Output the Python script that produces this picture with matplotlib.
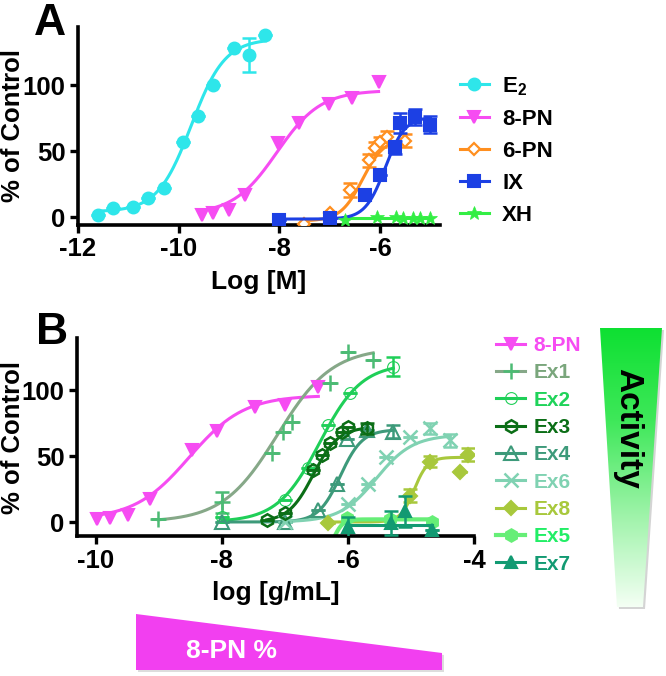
import numpy as np
import matplotlib
matplotlib.use('Agg')
import matplotlib.pyplot as plt
from matplotlib.lines import Line2D
from matplotlib.patches import Polygon

plt.rcParams['font.family'] = ['Liberation Sans', 'DejaVu Sans']
plt.rcParams['font.weight'] = 'bold'
plt.rcParams['axes.unicode_minus'] = False
plt.rcParams['mathtext.fontset'] = 'custom'
plt.rcParams['mathtext.rm'] = 'Liberation Sans:bold'
plt.rcParams['mathtext.it'] = 'Liberation Sans:bold'
plt.rcParams['mathtext.bf'] = 'Liberation Sans:bold'

# ---------------- panel A data (log M, % of control) ----------------
e2_x = [-11.61, -11.30, -10.90, -10.60, -10.30, -9.92, -9.61, -9.31, -8.91, -8.61, -8.28]
e2_y = [1.5, 6.6, 7.8, 14.2, 22.2, 57.2, 76.5, 100, 127.8, 122.7, 137.9]
e2_err = [0, 0, 0, 0, 0, 0, 0, 0, 0, 12.7, 0]

pn8a_x = [-9.54, -9.31, -9.01, -8.68, -8.02, -7.62, -7.02, -6.56, -6.03]
pn8a_y = [1.5, 2.8, 5.3, 16.7, 55.8, 71, 86, 90, 102.5]

pn6_x = [-7.52, -6.99, -6.59, -6.23, -6.10, -6.00, -5.86, -5.50]
pn6_y = [-5, 2.8, 20.5, 43, 52, 57, 61, 58]
pn6_err = [0, 0, 5, 5, 5, 4, 4, 5]

ix_x = [-8.0, -6.99, -6.29, -6.0, -5.70, -5.60, -5.30, -5.0]
ix_y = [-2.3, -1, 16.7, 32, 53, 71, 76, 70]
ix_err = [0, 0, 0, 0, 5, 7.5, 6, 6.5]

xh_x = [-6.69, -6.06, -5.69, -5.55, -5.35, -5.20, -5.0]
xh_y = [-2.3, 0.2, 0, -0.5, -0.5, -0.5, -0.5]

# fitted curves: bottom, top, logEC50, hill
e2_fit = [4, 135, -9.75, 1.3]
pn8a_fit = [2, 96, -8.05, 1.0]
pn6_fit = [-3, 60, -6.35, 2.0]
ix_fit = [-1.5, 76, -5.9, 2.2]
xh_fit = [-0.5, -0.5, -6.0, 1.0]

# ---------------- panel B data (log g/mL, % of control) ----------------
pn8b_x = [-9.99, -9.78, -9.49, -9.14, -8.47, -8.08, -7.48, -7.0, -6.47]
pn8b_y = [2, 2.8, 5.3, 17.2, 54.5, 69, 87, 89, 102]

ex1_x = [-9.01, -8.0, -7.21, -7.03, -6.89, -6.29, -6.0, -5.6]
ex1_y = [2, 15, 52, 68, 76, 105, 129, 123]
ex1_err = [0, 8, 0, 0, 0, 0, 0, 0]

ex2_x = [-8.0, -7.0, -6.63, -6.31, -5.97, -5.28]
ex2_y = [4, 16.7, 40.6, 73.5, 97.5, 117.7]
ex2_err = [0, 0, 0, 0, 0, 7]

ex3_x = [-7.29, -7.0, -6.55, -6.42, -6.29, -6.10, -6.0, -5.7]
ex3_y = [1.5, 6.6, 39.4, 50.8, 59.6, 68.4, 72, 71]
ex3_err = [0, 0, 0, 0, 0, 0, 0, 4]

ex4_x = [-8.0, -7.0, -6.47, -6.18, -6.02, -5.7, -5.28]
ex4_y = [0, 0, 9, 29, 63, 70, 68.4]
ex4_err = [0, 0, 0, 0, 0, 0, 5]

ex6_x = [-7.0, -6.0, -5.68, -5.39, -5.02, -4.70, -4.38]
ex6_y = [0, 14, 29, 49.5, 64.6, 71, 62]
ex6_err = [0, 0, 0, 0, 0, 4, 5]

ex8_x = [-6.31, -5.02, -4.70, -4.22, -4.09]
ex8_y = [-1, 20, 45.7, 38, 51]
ex8_err = [0, 5, 4, 0, 5]

ex5_x = [-6.02, -5.33, -4.67]
ex5_y = [3, 2, 0]

ex7_x = [-6.0, -5.31, -5.10, -4.67]
ex7_y = [-4, -1, 8, -6]
ex7_err = [8, 9, 12, 0]

pn8b_fit = [2, 96, -8.52, 1.0]
ex1_fit = [0, 132, -7.12, 1.0]
ex2_fit = [0, 120, -6.45, 1.3]
ex3_fit = [0, 72, -6.55, 2.2]
ex4_fit = [0, 70, -6.12, 2.5]
ex6_fit = [0, 66, -5.55, 1.5]
ex8_fit = [0, 49, -4.95, 4.0]
ex5_fit = [-25, 2, -6.22, 6.0]
ex7_fit = [-2, -2, -5.5, 1.0]
ex5_start = -6.27


def four_pl(x, p):
    bottom, top, logec, hill = p
    return bottom + (top - bottom) / (1 + 10 ** ((logec - x) * hill))


def draw_series(ax, x, y, fit, color, marker, err=None, ms=8, mfc=None,
                mew=1.5, lcolor=None, x0=None, lw=2.2, z=2):
    xs = np.linspace(x[0] if x0 is None else x0, x[-1], 200)
    ax.plot(xs, four_pl(xs, fit), color=lcolor or color, lw=lw, zorder=z)
    if err is not None:
        ax.errorbar(x, y, yerr=err, fmt='none', ecolor=color, elinewidth=1.8,
                    capsize=5, capthick=1.8, zorder=z + 0.5)
    ax.plot(x, y, linestyle='none', marker=marker, ms=ms, color=color,
            mfc=mfc or color, mec=color, mew=mew, zorder=z + 1)
    return Line2D([], [], color=lcolor or color, lw=lw, marker=marker, ms=ms,
                  mfc=mfc or color, mec=color, mew=mew)


def style_axes(ax, label_x):
    for s in ['top', 'right']:
        ax.spines[s].set_visible(False)
    for s in ['left', 'bottom']:
        ax.spines[s].set_linewidth(2.6)
    ax.tick_params(width=2.4, length=6, labelsize=18.5, pad=3)
    ax.set_yticks([0, 50, 100])
    for t in ax.get_xticklabels() + ax.get_yticklabels():
        t.set_fontweight('bold')
    ax.set_ylabel('% of Control', fontsize=18.5, fontweight='bold')
    ax.yaxis.set_label_coords(label_x, 0.5)


fig = plt.figure(figsize=(6.66, 6.76), dpi=100)

# ---------------- panel A ----------------
axA = fig.add_axes([78 / 666, 1 - 225 / 676, 362 / 666, 198 / 676])
hA = []
hA.append(draw_series(axA, e2_x, e2_y, e2_fit, '#2ee6ea', 'o', err=e2_err, ms=8.5))
hA.append(draw_series(axA, pn8a_x, pn8a_y, pn8a_fit, '#f64cf2', 'v', ms=8.5))
hA.append(draw_series(axA, pn6_x, pn6_y, pn6_fit, '#ff8f1f', 'D', err=pn6_err,
                      ms=6.5, mfc='white', mew=1.6))
hA.append(draw_series(axA, ix_x, ix_y, ix_fit, '#1c40e4', 's', err=ix_err, ms=8.5, z=3))
hA.append(draw_series(axA, xh_x, xh_y, xh_fit, '#33ee44', '*', ms=10, mew=0.5))
axA.set_xlim(-12, -4.81)
axA.set_ylim(-6, 144)
axA.set_xticks([-12, -10, -8, -6])
style_axes(axA, (25 - 78) / 362)
axA.set_xlabel('Log [M]', fontsize=19, fontweight='bold', labelpad=6)
axA.legend(hA, ['E$_2$', '8-PN', '6-PN', 'IX', 'XH'], loc='upper left',
           bbox_to_anchor=(460 / 666, 1 - 75 / 676), bbox_transform=fig.transFigure,
           frameon=False, handlelength=1.3, handletextpad=0.6,
           labelspacing=0.5, borderpad=0, borderaxespad=0,
           prop={'weight': 'bold', 'size': 16})
fig.text(34 / 666, 1 - 35 / 676, 'A', fontsize=32, fontweight='bold')

# ---------------- panel B ----------------
axB = fig.add_axes([77 / 666, 1 - 536 / 676, 397 / 666, 198 / 676])
b_colors = ['#f64cf2', '#7aa67c', '#1fcf58', '#0b6e16', '#3d9a7a',
            '#80d2b2', '#a8c83c', '#66ee77', '#129a72']
b_label_colors = ['#f64cf2', '#7aa67c', '#1fd35a', '#0b6e16', '#3d9a7a',
                  '#80d2b2', '#a8c83c', '#22ee66', '#129a72']
hB = []
hB.append(draw_series(axB, pn8b_x, pn8b_y, pn8b_fit, b_colors[0], 'v', ms=8.5))
hB.append(draw_series(axB, ex1_x, ex1_y, ex1_fit, '#4cbb74', '+', err=ex1_err,
                      ms=11, mew=1.8, lcolor='#86a888'))
hB.append(draw_series(axB, ex2_x, ex2_y, ex2_fit, b_colors[2], 'o', err=ex2_err,
                      ms=8.5, mfc='none', mew=0.8))
hB.append(draw_series(axB, ex3_x, ex3_y, ex3_fit, b_colors[3], 'h', err=ex3_err,
                      ms=9, mfc='none', mew=1.8, z=3))
hB.append(draw_series(axB, ex4_x, ex4_y, ex4_fit, b_colors[4], '^', err=ex4_err,
                      ms=9.5, mfc='none', mew=1.5))
hB.append(draw_series(axB, ex6_x, ex6_y, ex6_fit, b_colors[5], 'x', err=ex6_err,
                      ms=10, mew=1.8))
hB.append(draw_series(axB, ex8_x, ex8_y, ex8_fit, b_colors[6], 'D', err=ex8_err, ms=7))
hB.append(draw_series(axB, ex5_x, ex5_y, ex5_fit, b_colors[7], 'h', ms=9,
                      x0=ex5_start, lw=3))
hB.append(draw_series(axB, ex7_x, ex7_y, ex7_fit, b_colors[8], '^', err=ex7_err, ms=9, z=4))
axB.set_xlim(-10.3, -4.0)
axB.set_ylim(-10.6, 139.4)
axB.set_xticks([-10, -8, -6, -4])
style_axes(axB, (25 - 77) / 397)
axB.set_xlabel('log [g/mL]', fontsize=19, fontweight='bold', labelpad=6)
axB.legend(hB, ['8-PN', 'Ex1', 'Ex2', 'Ex3', 'Ex4', 'Ex6', 'Ex8', 'Ex5', 'Ex7'],
           loc='upper left', bbox_to_anchor=(496 / 666, 1 - 336 / 676),
           bbox_transform=fig.transFigure, frameon=False, handlelength=1.4,
           handletextpad=0.4, labelspacing=0.4, borderpad=0, borderaxespad=0,
           labelcolor=b_label_colors, prop={'weight': 'bold', 'size': 15})
fig.text(36 / 666, 1 - 344 / 676, 'B', fontsize=32, fontweight='bold')

# ---------------- decorations (pixel overlay) ----------------
ov = fig.add_axes([0, 0, 1, 1], zorder=-1)
ov.set_xlim(0, 666)
ov.set_ylim(676, 0)
ov.axis('off')

tri = [(600, 328), (662, 328), (643, 607), (617, 607)]
grad = np.linspace(0, 1, 256).reshape(-1, 1)
cmap = matplotlib.colors.LinearSegmentedColormap.from_list(
    'act', ['#0ee032', '#3fe85a', '#9df3a8', '#f4fff4'])
ov.add_patch(Polygon([(p[0] + 2, p[1] + 2) for p in tri], closed=True,
                     facecolor='#d4d4d4', edgecolor='none', zorder=1))
im = ov.imshow(grad, extent=(600, 662, 607, 328), cmap=cmap, aspect='auto',
               zorder=2)
clip = Polygon(tri, closed=True, facecolor='none', edgecolor='none')
ov.add_patch(clip)
im.set_clip_path(clip)
ov.set_xlim(0, 666)
ov.set_ylim(676, 0)
ov.text(628, 428, 'Activity', rotation=-90, ha='center', va='center',
        fontsize=24, fontweight='bold', color='black', zorder=3)

ov.add_patch(Polygon([(138, 616), (444, 655), (444, 672), (138, 672)], closed=True,
                     facecolor='#dddddd', edgecolor='none', zorder=1))
ov.add_patch(Polygon([(136, 614), (442, 653), (442, 670), (136, 670)], closed=True,
                     facecolor='#f23ff0', edgecolor='none', zorder=2))
ov.text(232, 651, '8-PN %', ha='center', va='center', fontsize=19,
        fontweight='bold', color='white', zorder=3)

fig.savefig('out.png', dpi=100)
